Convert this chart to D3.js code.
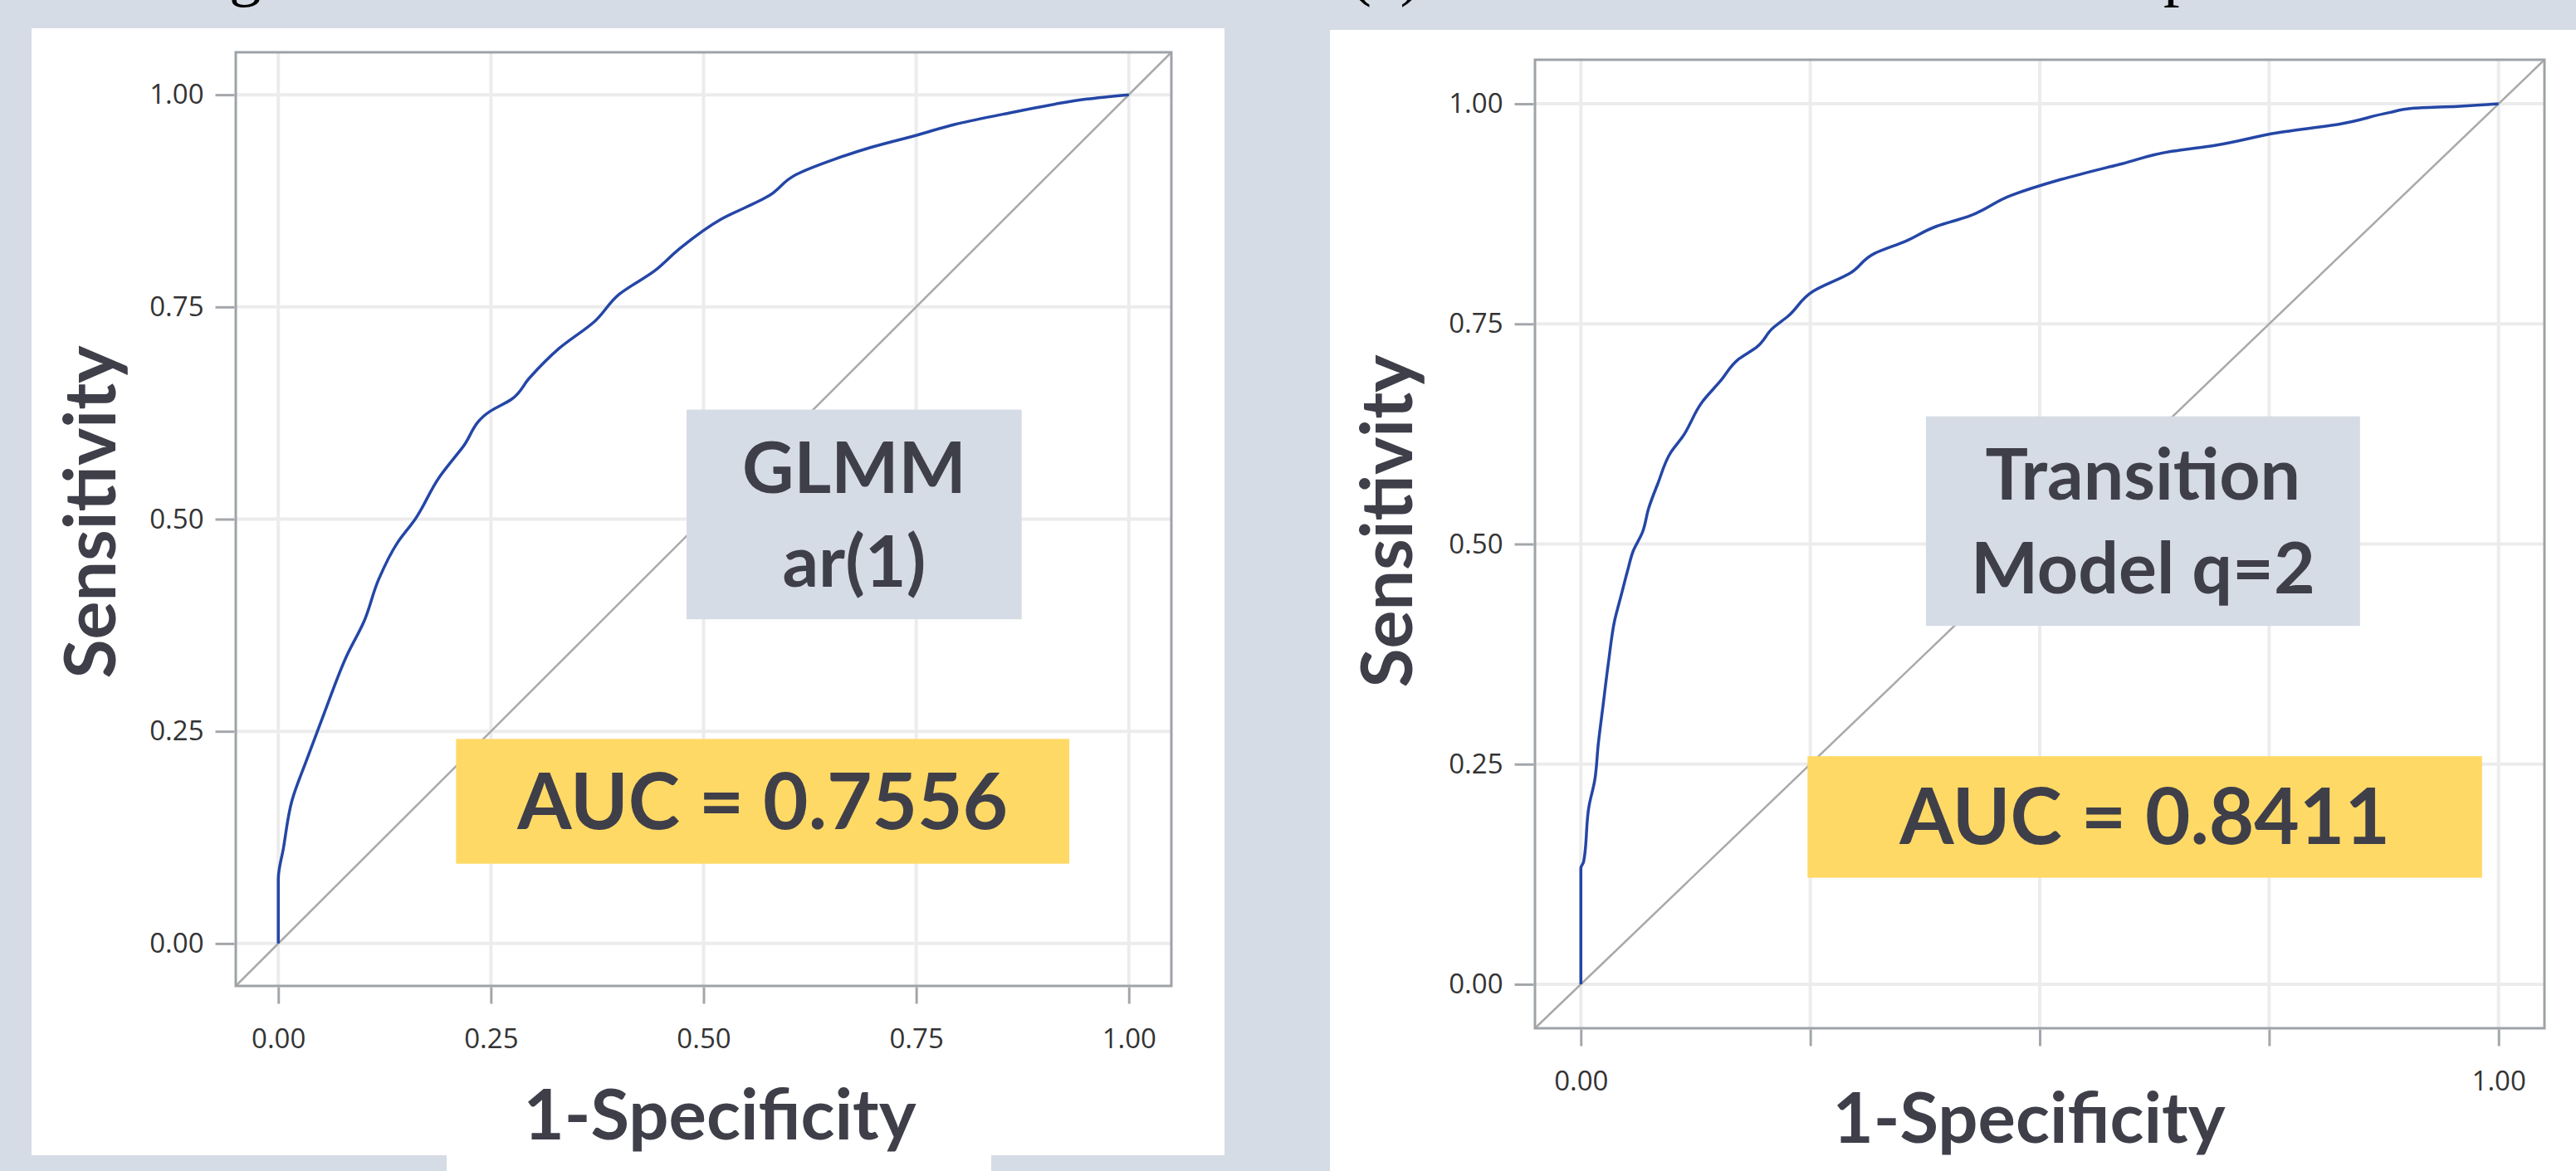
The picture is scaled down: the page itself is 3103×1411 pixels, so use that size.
<!DOCTYPE html>
<html>
<head>
<meta charset="utf-8">
<script src="https://cdn.jsdelivr.net/npm/d3@7"></script>
<style>
  body { margin: 0; background: #d6dce5; }
  svg { display: block; }
  .tick text { font-family: "Open Sans", sans-serif; fill: #333; }
  .tick line { stroke: #a3a7ab; stroke-width: 3; }
  .axis .domain { display: none; }
</style>
</head>
<body>
<svg width="3103" height="1411"></svg>
<script>
var svg = d3.select('svg');

var svgWidth = +svg.attr('width');
var svgHeight = +svg.attr('height');

// ROC points (1-specificity, sensitivity)
var glmmFpr = [0, 0, 0.006, 0.016, 0.034, 0.055, 0.080, 0.101, 0.118, 0.140,
    0.161, 0.189, 0.217, 0.249, 0.274, 0.295, 0.330, 0.372, 0.401, 0.443,
    0.471, 0.520, 0.577, 0.609, 0.654, 0.697, 0.753, 0.795, 0.852, 0.908, 0.951, 1];
var glmmTpr = [0, 0.076, 0.112, 0.168, 0.218, 0.274, 0.338, 0.380, 0.429, 0.472,
    0.500, 0.549, 0.585, 0.627, 0.641, 0.666, 0.701, 0.733, 0.765, 0.793,
    0.818, 0.853, 0.881, 0.906, 0.924, 0.938, 0.953, 0.965, 0.977, 0.988, 0.995, 1];

var transFpr = [0, 0, 0.003, 0.009, 0.015, 0.019, 0.024, 0.030, 0.037, 0.044,
    0.051, 0.057, 0.067, 0.074, 0.084, 0.098, 0.111, 0.132, 0.152, 0.172,
    0.192, 0.209, 0.226, 0.253, 0.294, 0.320, 0.354, 0.388, 0.422, 0.469,
    0.523, 0.590, 0.644, 0.692, 0.759, 0.827, 0.881, 0.908, 0.955, 1];
var transTpr = [0, 0.132, 0.139, 0.203, 0.231, 0.273, 0.315, 0.365, 0.414, 0.442,
    0.470, 0.492, 0.513, 0.541, 0.569, 0.604, 0.622, 0.661, 0.685, 0.710,
    0.724, 0.745, 0.759, 0.787, 0.808, 0.830, 0.844, 0.861, 0.872, 0.896,
    0.914, 0.932, 0.946, 0.953, 0.967, 0.977, 0.990, 0.995, 0.997, 1];

var tickValues = [0, 0.25, 0.5, 0.75, 1];
var axisDomain = [-0.05, 1.05];

var glmmLabel = ['GLMM', 'ar(1)'];
var glmmAuc = 'AUC = 0.7556';
var transLabel = ['Transition', 'Model q=2'];
var transAuc = 'AUC = 0.8411';

var xTitle = '1-Specificity';
var yTitle = 'Sensitivity';

var textColor = '#3f3f4a';
var boldFont = 'Lato, "Open Sans", sans-serif';

// background
svg.append('rect')
    .attr('width', svgWidth)
    .attr('height', svgHeight)
    .attr('fill', '#d6dce5');

// bits of the caption line above, cut off by the top edge
var captionG = svg.append('g')
    .attr('font-family', '"Liberation Serif", "DejaVu Serif", serif')
    .attr('font-size', 78)
    .attr('fill', '#000');
[['g', 276], ['(c)', 1626], ['p', 2606]].forEach(function(c) {
    captionG.append('text').attr('x', c[1]).attr('y', -8).text(c[0]);
});

// Panel layout
var panels = [
    {
        fpr: glmmFpr, tpr: glmmTpr, label: glmmLabel, auc: glmmAuc,
        cards: [[38, 34, 1437, 1358], [538, 1380, 656, 31]],
        frame: {l: 284, t: 63, r: 1411, b: 1188},
        xLabels: tickValues,
        yTitlePos: [139, 617], xTitlePos: [867, 1373],
        nameBox: [0.48, 0.874, 0.629, 0.382],
        aucBox: [0.209, 0.930, 0.241, 0.094]
    },
    {
        fpr: transFpr, tpr: transTpr, label: transLabel, auc: transAuc,
        cards: [[1602, 36, 1501, 1375]],
        frame: {l: 1849, t: 72, r: 3065, b: 1239},
        xLabels: [0, 1],
        yTitlePos: [1701, 628], xTitlePos: [2444, 1377],
        nameBox: [0.376, 0.849, 0.645, 0.407],
        aucBox: [0.247, 0.982, 0.259, 0.121]
    }
];

function drawPanel(p) {
    var g = svg.append('g');

    p.cards.forEach(function(c) {
        g.append('rect')
            .attr('x', c[0]).attr('y', c[1])
            .attr('width', c[2]).attr('height', c[3])
            .attr('fill', '#fff');
    });

    var f = p.frame;
    var x = d3.scaleLinear().domain(axisDomain).range([f.l, f.r]);
    var y = d3.scaleLinear().domain(axisDomain).range([f.b, f.t]);

    // gridlines
    g.selectAll('.vgrid')
        .data(tickValues)
        .enter().append('line')
        .attr('x1', function(d) { return x(d); })
        .attr('x2', function(d) { return x(d); })
        .attr('y1', f.t).attr('y2', f.b)
        .attr('stroke', '#ececec').attr('stroke-width', 4);
    g.selectAll('.hgrid')
        .data(tickValues)
        .enter().append('line')
        .attr('y1', function(d) { return y(d); })
        .attr('y2', function(d) { return y(d); })
        .attr('x1', f.l).attr('x2', f.r)
        .attr('stroke', '#ececec').attr('stroke-width', 4);

    // reference diagonal
    g.append('line')
        .attr('x1', x(axisDomain[0])).attr('y1', y(axisDomain[0]))
        .attr('x2', x(axisDomain[1])).attr('y2', y(axisDomain[1]))
        .attr('stroke', '#a9a9a9').attr('stroke-width', 2.5);

    // ROC curve (sensitivity only goes up, so a monotone-in-y curve)
    var pts = p.fpr.map(function(v, i) { return [v, p.tpr[i]]; });
    var line = d3.line()
        .curve(d3.curveMonotoneY)
        .x(function(d) { return x(d[0]); })
        .y(function(d) { return y(d[1]); });
    g.append('path')
        .datum(pts)
        .attr('d', line)
        .attr('fill', 'none')
        .attr('stroke', '#2446a6')
        .attr('stroke-width', 3.5)
        .attr('stroke-linejoin', 'round');

    // frame
    g.append('rect')
        .attr('x', f.l).attr('y', f.t)
        .attr('width', f.r - f.l).attr('height', f.b - f.t)
        .attr('fill', 'none')
        .attr('stroke', '#9ea3a8').attr('stroke-width', 3);

    // axes
    var xAxis = d3.axisBottom(x)
        .tickValues(tickValues)
        .tickSize(20)
        .tickPadding(30)
        .tickFormat(function(d) { return p.xLabels.indexOf(d) >= 0 ? d3.format('.2f')(d) : ''; });
    g.append('g')
        .attr('class', 'axis')
        .attr('transform', 'translate(0,' + (f.b + 1.5) + ')')
        .call(xAxis)
        .selectAll('text').attr('font-size', 33);

    var yAxis = d3.axisLeft(y)
        .tickValues(tickValues)
        .tickSize(23)
        .tickPadding(14)
        .tickFormat(d3.format('.2f'));
    g.append('g')
        .attr('class', 'axis')
        .attr('transform', 'translate(' + (f.l - 1.5) + ',0)')
        .call(yAxis)
        .selectAll('text').attr('font-size', 33);

    // axis titles
    g.append('text')
        .attr('transform', 'translate(' + p.yTitlePos + ')rotate(-90)')
        .attr('text-anchor', 'middle')
        .attr('font-family', boldFont)
        .attr('font-weight', 700)
        .attr('font-size', 86)
        .attr('fill', textColor)
        .text(yTitle);
    g.append('text')
        .attr('x', p.xTitlePos[0]).attr('y', p.xTitlePos[1])
        .attr('text-anchor', 'middle')
        .attr('font-family', boldFont)
        .attr('font-weight', 700)
        .attr('font-size', 85)
        .attr('fill', textColor)
        .text(xTitle);

    // model name box
    var nb = p.nameBox;
    var ncx = (x(nb[0]) + x(nb[1])) / 2;
    var ncy = (y(nb[2]) + y(nb[3])) / 2;
    g.append('rect')
        .attr('x', x(nb[0])).attr('y', y(nb[2]))
        .attr('width', x(nb[1]) - x(nb[0]))
        .attr('height', y(nb[3]) - y(nb[2]))
        .attr('fill', '#d6dce5');
    g.append('text')
        .attr('text-anchor', 'middle')
        .attr('font-family', boldFont)
        .attr('font-weight', 700)
        .attr('font-size', 86)
        .attr('fill', textColor)
        .selectAll('tspan')
        .data(p.label)
        .enter().append('tspan')
        .attr('x', ncx)
        .attr('y', function(d, i) { return ncy - 26 + i * 113; })
        .text(function(d) { return d; });

    // AUC box
    var ab = p.aucBox;
    var acx = (x(ab[0]) + x(ab[1])) / 2;
    var acy = (y(ab[2]) + y(ab[3])) / 2;
    g.append('rect')
        .attr('x', x(ab[0])).attr('y', y(ab[2]))
        .attr('width', x(ab[1]) - x(ab[0]))
        .attr('height', y(ab[3]) - y(ab[2]))
        .attr('fill', '#ffd966');
    g.append('text')
        .attr('x', acx).attr('y', acy + 33)
        .attr('text-anchor', 'middle')
        .attr('font-family', boldFont)
        .attr('font-weight', 700)
        .attr('font-size', 94)
        .attr('fill', textColor)
        .text(p.auc);
}

panels.forEach(drawPanel);
</script>
</body>
</html>
